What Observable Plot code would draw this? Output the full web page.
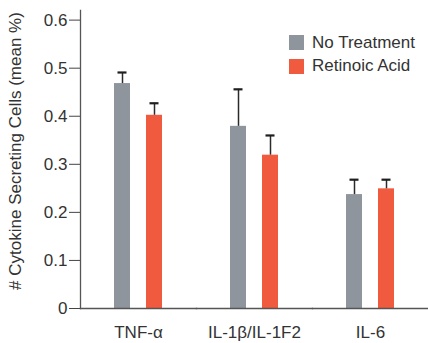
<!DOCTYPE html>
<html>
<head>
<meta charset="utf-8">
<script src="https://cdn.jsdelivr.net/npm/d3@7"></script>
<script src="https://cdn.jsdelivr.net/npm/@observablehq/plot@0.6"></script>
<style>
  html, body { margin: 0; padding: 0; background: #fff; }
  #wrap { position: relative; width: 428px; height: 343px; font-family: "Liberation Sans", Arial, sans-serif; }
  .legend { position: absolute; left: 289px; top: 31px; font-size: 17px; color: #333; }
  .legend .row { display: flex; align-items: center; height: 23.5px; }
  .legend .sw { width: 15px; height: 15px; margin-right: 8px; }
</style>
</head>
<body>
<div id="wrap"></div>
<script>
const cytokines = ["TNF-α", "IL-1β/IL-1F2", "IL-6"];
const treatments = ["No Treatment", "Retinoic Acid"];
const noTreatment = [0.468, 0.379, 0.237];
const noTreatmentUpper = [0.491, 0.456, 0.268];
const retinoicAcid = [0.402, 0.319, 0.249];
const retinoicAcidUpper = [0.427, 0.36, 0.268];
const yTicks = [0, 0.1, 0.2, 0.3, 0.4, 0.5, 0.6];
const yLabel = "# Cytokine Secreting Cells (mean %)";
const colors = ["#8e959c", "#f05a3e"];

const rows = [];
cytokines.forEach((c, i) => {
  rows.push({cytokine: c, treatment: treatments[0], value: noTreatment[i], upper: noTreatmentUpper[i]});
  rows.push({cytokine: c, treatment: treatments[1], value: retinoicAcid[i], upper: retinoicAcidUpper[i]});
});

const chart = Plot.plot({
  width: 428,
  height: 343,
  marginLeft: 79,
  marginRight: 0,
  marginTop: 10,
  marginBottom: 35,
  style: {fontFamily: "Liberation Sans, Arial, sans-serif", fontSize: "17px", color: "#333", background: "white"},
  fx: {domain: cytokines, paddingInner: 0, paddingOuter: 0, label: null, axis: null},
  x: {domain: treatments, paddingInner: 0.515, paddingOuter: 1.02, axis: null},
  y: {domain: [0, 0.62], axis: null},
  color: {domain: treatments, range: colors},
  marks: [
    Plot.barY(rows, {fx: "cytokine", x: "treatment", y: "value", fill: "treatment"}),
    Plot.ruleX(rows, {fx: "cytokine", x: "treatment", y1: "value", y2: "upper", stroke: "#2a2a2a", strokeWidth: 1.5}),
    Plot.tickY(rows, {fx: "cytokine", x: "treatment", y: "upper", stroke: "#1e1e1e", strokeWidth: 2.2, insetLeft: 3.5, insetRight: 3.5}),
    Plot.axisY({ticks: yTicks, tickSize: 11, tickPadding: 2, tickFormat: d => d === 0 ? "0" : d3.format(".1f")(d), stroke: "#444", fill: "#333", fontSize: 17, label: null, facetAnchor: "left", frameAnchor: "left"}),
    Plot.axisFx({tickSize: 0, tickPadding: 17, label: null, fill: "#333", fontSize: 17, anchor: "bottom"}),
    Plot.frame({anchor: "left", stroke: "#555", strokeWidth: 1.3, facetAnchor: "left"}),
    Plot.frame({anchor: "bottom", stroke: "#555", strokeWidth: 1.3})
  ]
});

document.getElementById("wrap").appendChild(chart);

// y axis title drawn as text within the SVG
const svg = d3.select(chart);
svg.append("text")
  .attr("transform", "translate(17,151) rotate(-90)")
  .attr("text-anchor", "middle")
  .attr("dominant-baseline", "middle")
  .attr("fill", "#333")
  .style("font-size", "17px")
  .text(yLabel);

const legend = d3.select("#wrap").append("div").attr("class", "legend");
treatments.forEach((t, i) => {
  const row = legend.append("div").attr("class", "row");
  row.append("div").attr("class", "sw").style("background", colors[i]);
  row.append("span").text(t);
});
</script>
</body>
</html>
